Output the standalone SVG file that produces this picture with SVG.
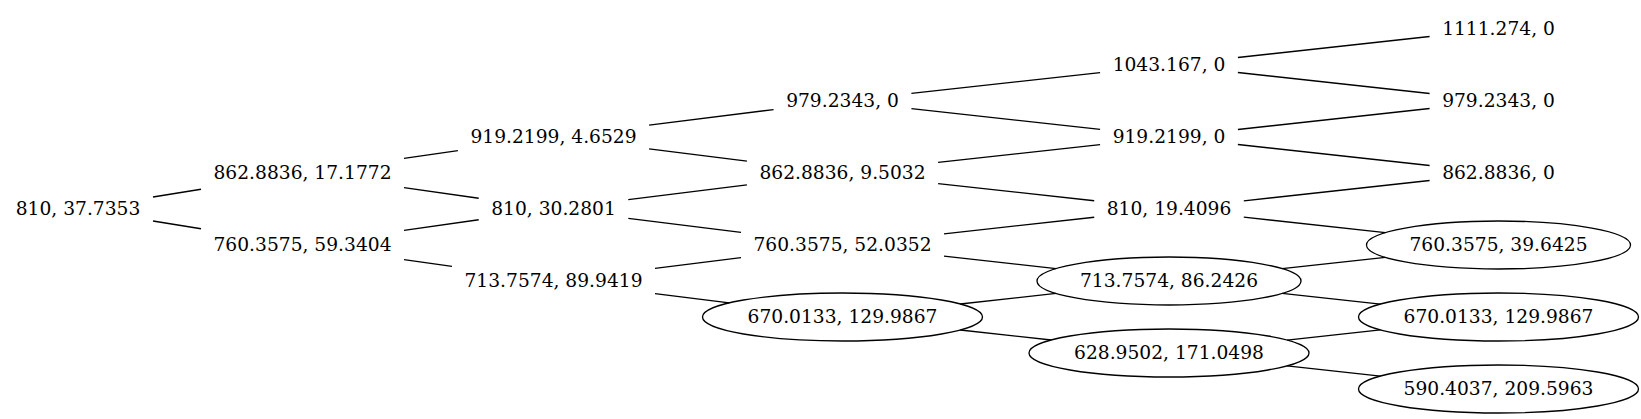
<svg xmlns="http://www.w3.org/2000/svg" width="1641" height="419" viewBox="0 0 1641 419">
<style>
text{font-family:"DejaVu Serif","Liberation Serif",serif;font-size:18.67px;text-anchor:middle;fill:#000}
ellipse{fill:none;stroke:#000;stroke-width:1.33}
#edges line{stroke:#000;stroke-width:1.33}
</style>
<rect width="1641" height="419" fill="#fff"/>
<g id="edges">
<line x1="153" y1="196.97" x2="201" y2="189.28"/>
<line x1="153" y1="221.03" x2="201" y2="228.72"/>
<line x1="404" y1="158.44" x2="457.9" y2="150.71"/>
<line x1="404" y1="187.56" x2="478.7" y2="198.27"/>
<line x1="404" y1="230.44" x2="478.7" y2="219.73"/>
<line x1="404" y1="259.56" x2="452" y2="266.44"/>
<line x1="649.1" y1="125.09" x2="773.6" y2="109.58"/>
<line x1="649.1" y1="148.91" x2="746.9" y2="161.09"/>
<line x1="628.3" y1="199.68" x2="746.9" y2="184.91"/>
<line x1="628.3" y1="218.32" x2="741" y2="232.36"/>
<line x1="655" y1="268.36" x2="741" y2="257.64"/>
<line x1="655" y1="293.64" x2="729.24" y2="302.89"/>
<line x1="911.4" y1="93.4" x2="1100.1" y2="72.6"/>
<line x1="911.4" y1="108.6" x2="1100.1" y2="129.4"/>
<line x1="938.1" y1="162.46" x2="1100.1" y2="144.6"/>
<line x1="938.1" y1="183.54" x2="1094.2" y2="200.75"/>
<line x1="944" y1="233.81" x2="1094.2" y2="217.25"/>
<line x1="944" y1="256.19" x2="1056.13" y2="268.56"/>
<line x1="960.24" y1="304.02" x2="1056.13" y2="293.44"/>
<line x1="960.24" y1="329.98" x2="1051.26" y2="340.02"/>
<line x1="1237.9" y1="57.47" x2="1429.6" y2="36.53"/>
<line x1="1237.9" y1="72.53" x2="1429.6" y2="93.47"/>
<line x1="1237.9" y1="129.47" x2="1429.6" y2="108.53"/>
<line x1="1237.9" y1="144.53" x2="1429.6" y2="165.47"/>
<line x1="1243.8" y1="200.83" x2="1429.6" y2="180.53"/>
<line x1="1243.8" y1="217.17" x2="1385.36" y2="232.64"/>
<line x1="1282.14" y1="268.64" x2="1385.36" y2="257.36"/>
<line x1="1282.14" y1="293.36" x2="1380.44" y2="304.1"/>
<line x1="1287.06" y1="340.1" x2="1380.44" y2="329.9"/>
<line x1="1287.06" y1="365.9" x2="1380.44" y2="376.1"/>
</g>
<g id="n0"><text x="78" y="214.6">810, 37.7353</text></g>
<g id="n1"><text x="302.5" y="178.6">862.8836, 17.1772</text></g>
<g id="n2"><text x="302.5" y="250.6">760.3575, 59.3404</text></g>
<g id="n3"><text x="553.5" y="142.6">919.2199, 4.6529</text></g>
<g id="n4"><text x="553.5" y="214.6">810, 30.2801</text></g>
<g id="n5"><text x="553.5" y="286.6">713.7574, 89.9419</text></g>
<g id="n6"><text x="842.5" y="106.6">979.2343, 0</text></g>
<g id="n7"><text x="842.5" y="178.6">862.8836, 9.5032</text></g>
<g id="n8"><text x="842.5" y="250.6">760.3575, 52.0352</text></g>
<g id="n9"><ellipse cx="842.5" cy="317" rx="140" ry="24"/><text x="842.5" y="322.6">670.0133, 129.9867</text></g>
<g id="n10"><text x="1169" y="70.6">1043.167, 0</text></g>
<g id="n11"><text x="1169" y="142.6">919.2199, 0</text></g>
<g id="n12"><text x="1169" y="214.6">810, 19.4096</text></g>
<g id="n13"><ellipse cx="1169" cy="281" rx="132" ry="24"/><text x="1169" y="286.6">713.7574, 86.2426</text></g>
<g id="n14"><ellipse cx="1169" cy="353" rx="140" ry="24"/><text x="1169" y="358.6">628.9502, 171.0498</text></g>
<g id="n15"><text x="1498.5" y="34.6">1111.274, 0</text></g>
<g id="n16"><text x="1498.5" y="106.6">979.2343, 0</text></g>
<g id="n17"><text x="1498.5" y="178.6">862.8836, 0</text></g>
<g id="n18"><ellipse cx="1498.5" cy="245" rx="132" ry="24"/><text x="1498.5" y="250.6">760.3575, 39.6425</text></g>
<g id="n19"><ellipse cx="1498.5" cy="317" rx="140" ry="24"/><text x="1498.5" y="322.6">670.0133, 129.9867</text></g>
<g id="n20"><ellipse cx="1498.5" cy="389" rx="140" ry="24"/><text x="1498.5" y="394.6">590.4037, 209.5963</text></g>
</svg>
